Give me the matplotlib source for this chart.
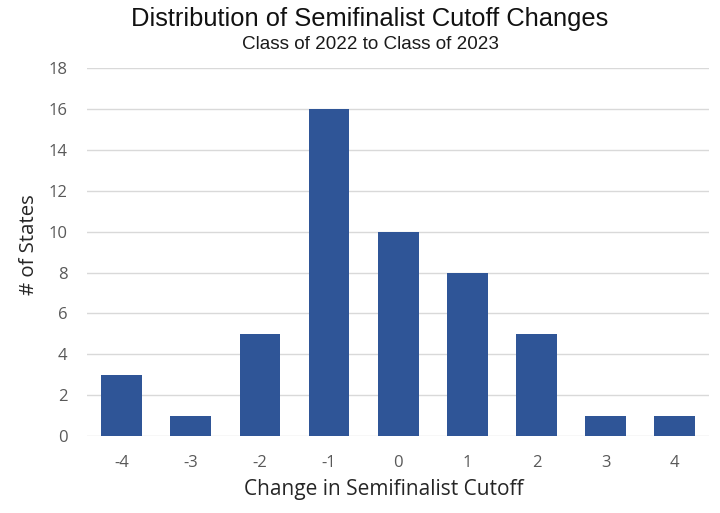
import matplotlib.pyplot as plt

changes = ["-4", "-3", "-2", "-1", "0", "1", "2", "3", "4"]
states = [3, 1, 5, 16, 10, 8, 5, 1, 1]

fig = plt.figure(figsize=(7.2, 5.13), dpi=100)
ax = fig.add_axes([0.121, 0.150, 0.864, 0.717])

x = range(len(changes))
ax.bar(x, states, width=0.59, color="#2F5597", zorder=3)

ax.set_xlim(-0.5, len(changes) - 0.5)
ax.set_ylim(0, 18)
ax.set_yticks(range(0, 19, 2))
ax.set_xticks(list(x))
ax.set_xticklabels(changes)
ax.yaxis.grid(True, color="#d9d9d9", linewidth=1, zorder=0)
ax.tick_params(length=0, labelsize=12, labelcolor="#595959")
ax.tick_params(axis="x", pad=14)
ax.tick_params(axis="y", pad=14)
for lbl in ax.get_xticklabels() + ax.get_yticklabels():
    lbl.set_family("Open Sans")
for s in ax.spines.values():
    s.set_visible(False)

ax.set_xlabel("Change in Semifinalist Cutoff", fontsize=15, family="Open Sans",
              color="#262626")
ax.xaxis.set_label_coords(0.477, -0.117)
ax.set_ylabel("# of States", fontsize=14.7, family="Open Sans", color="#262626")
ax.yaxis.set_label_coords(-0.077, 0.52)

fig.text(0.514, 0.962, "Distribution of Semifinalist Cutoff Changes", ha="center", va="center",
         fontsize=18.4, family="Liberation Sans", color="#111111")
fig.text(0.515, 0.914, "Class of 2022 to Class of 2023", ha="center", va="center",
         fontsize=13.6, family="Liberation Sans", color="#1a1a1a")

fig.savefig("out.png", dpi=100)
